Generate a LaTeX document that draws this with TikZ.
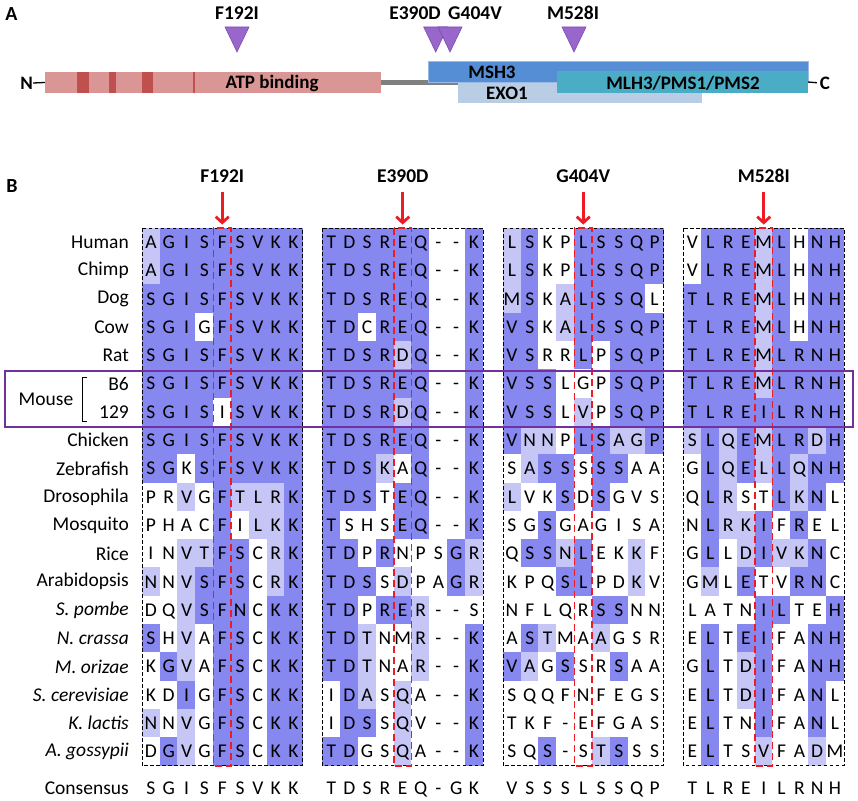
\documentclass[tikz,border=0pt]{standalone}
\usepackage{fontspec}
\setmainfont{Carlito}
\usetikzlibrary{arrows.meta}

\definecolor{shaded}{RGB}{135,135,240}
\definecolor{shadel}{RGB}{198,198,246}
\definecolor{shadew}{RGB}{255,255,255}
\definecolor{arrowred}{RGB}{237,28,36}
\definecolor{mouseline}{RGB}{112,48,160}
\definecolor{atppink}{RGB}{217,150,148}
\definecolor{atpred}{RGB}{192,80,77}
\definecolor{linkgray}{RGB}{128,128,128}
\definecolor{mshblue}{RGB}{85,142,213}
\definecolor{mlhteal}{RGB}{75,172,198}
\definecolor{exoblue}{RGB}{185,205,229}
\definecolor{mutpurple}{RGB}{153,102,204}
\definecolor{mutedge}{RGB}{120,80,170}

% one alignment cell
\def\ALcw{17.83}
\def\ALrh{28.3}
\newcount\ALcol
\def\ALrow#1#2#3#4#5{% block, row name, row position, letters, shades
  \ALcol=0
  \edef\ALblk{#1}\edef\ALr{#2}\edef\ALy{#3}%
  \edef\ALtmp{\noexpand\ALnext#4\noexpand\relax#5\noexpand\relax}\ALtmp}
\def\ALnext#1#2\relax#3#4\relax{%
  \advance\ALcol by 1
  \node[cell,fill=shade#3] (\ALblk-\ALr-\the\ALcol)
    at ([shift={({(\the\ALcol-0.5)*\ALcw},{(\ALy+0.5)*\ALrh})}]\ALblk) {#1};
  \ifx\relax#2\relax\else\ALnext#2\relax#4\relax\fi}

\begin{document}
\begin{tikzpicture}[x=1pt,y=-1pt,
    cell/.style={rectangle,inner sep=0pt,minimum width=18.2pt,minimum height=28.7pt,
                 text height=12.6pt,text depth=0pt,font=\fontsize{19.5}{19.5}\selectfont},
    species/.style={anchor=east,inner sep=0pt,font=\fontsize{19.5}{19.5}\selectfont},
    mutlabel/.style={inner sep=0pt,font=\bfseries\fontsize{19.5}{19.5}\selectfont},
    panel/.style={inner sep=0pt,font=\bfseries\fontsize{20}{20}\selectfont},
    blockframe/.style={draw=black,line width=0.9pt,dash pattern=on 3.5pt off 2.5pt},
    mutcolumn/.style={draw=arrowred,line width=1.6pt,dash pattern=on 7pt off 4pt},
    mutarrow/.style={draw=arrowred,line width=2.8pt,line join=round,
                     -{Straight Barb[length=6pt,width=13pt]}},
    bar/.style={rectangle,inner sep=0pt,minimum height=21pt},
    bartext/.style={inner sep=0pt,font=\bfseries\fontsize{19}{19}\selectfont},
    termdash/.style={draw=black,line width=1.3pt}]
\useasboundingbox (0,0) rectangle (858,800);

% panel A: domain map
\node[panel] (pA) at (11.5,14) {A};
\node[bar,fill=atppink,minimum width=336pt] (atp) at (213,82.5) {};
\foreach \a/\b in {77/89,109/116,142/153,193.3/194.8}
    \fill[atpred] (\a,72) rectangle (\b,93);
\node[bar,fill=exoblue,minimum width=244pt] (exo) at (580,92.5) {};
\draw[linkgray,line width=5pt] (atp.east) -- (exo.west |- atp.east);
\node[bar,fill=exoblue,minimum width=244pt] (exo) at (580,92.5) {};
\node[bar,fill=mshblue,draw=mshblue!60,line width=0.6pt,minimum width=380pt] (msh) at (618,71.5) {};
\node[bar,fill=mlhteal,minimum width=251pt,minimum height=22pt] (mlh) at (682.5,82) {};
\node[bartext] (atptext) at (272,83) {ATP binding};
\node[bartext] (mshtext) at (492,72) {MSH3};
\node[bartext] (exotext) at (507,93) {EXO1};
\node[bartext] (mlhtext) at (683,83) {MLH3/PMS1/PMS2};
\node[bartext] (nterm) at (26.7,83) {N};
\node[bartext] (cterm) at (825,83) {C};
\draw[termdash] (nterm.east) -- (atp.west);
\draw[termdash,shorten >=3pt] (mlh.east) -- (cterm.west);

\foreach \x/\lab/\lx in {237/F192I/237,435.7/E390D/415,450/G404V/475,574/M528I/573}{
    \node[mutlabel] (t\lab) at (\lx,13) {\lab};
    \filldraw[fill=mutpurple,draw=mutedge,line width=0.6pt] (\x-12,27) -- (\x+12,27) -- (\x,52) -- cycle;
}

% panel B: alignment
\node[panel] (pB) at (12,186) {B};
\coordinate (b1) at (142,228);
\coordinate (b2) at (322.5,228);
\coordinate (b3) at (503,228);
\coordinate (b4) at (683.5,228);

\foreach \s/\h [count=\r from 0] in {
    AGISFSVKK/ldddddddd,
    AGISFSVKK/ldddddddd,
    SGISFSVKK/ddddddddd,
    SGIGFSVKK/dddwddddd,
    SGISFSVKK/ddddddddd,
    SGISFSVKK/ddddddddd,
    SGISISVKK/ddddwdddd,
    SGISFSVKK/ddddddddd,
    SGKSFSVKK/ddwdddddd,
    PRVGFTLRK/wwlwdllld,
    PHACFILKK/wwwwdwlld,
    INVTFSCRK/wwllddwld,
    NNVSFSCRK/lwldddwld,
    DQVSFNCKK/wwldddwdd,
    SHVAFSCKK/dwlwddwdd,
    KGVAFSCKK/wdlwddwdd,
    KDIGFSCKK/wwdwddwdd,
    NNVGFSCKK/lwlwddwdd,
    DGVGFSCKK/wdlwddwdd}
    {\ALrow{b1}{\r}{\r}{\s}{\h}}

\foreach \s/\h [count=\r from 0] in {
    TDSREQ--K/ddddddwwd,
    TDSREQ--K/ddddddwwd,
    TDSREQ--K/ddddddwwd,
    TDCREQ--K/ddwdddwwd,
    TDSRDQ--K/ddddldwwd,
    TDSREQ--K/ddddddwwd,
    TDSRDQ--K/ddddldwwd,
    TDSREQ--K/ddddddwwd,
    TDSKAQ--K/dddlwdwwd,
    TDSTEQ--K/dddwddwwd,
    TSHSEQ--K/dwwwddwwd,
    TDPRNPSGR/ddwdwwwdl,
    TDSSDPAGR/dddwlwwdl,
    TDPRER--S/ddwddlwww,
    TDTNMR--K/ddlwwlwwd,
    TDTNAR--K/ddlwwlwwd,
    IDASQA--K/wdlwlwwwd,
    IDSSQV--K/wddwlwwwd,
    TDGSQA--K/ddwwlwwwd}
    {\ALrow{b2}{\r}{\r}{\s}{\h}}

\foreach \s/\h [count=\r from 0] in {
    LSKPLSSQP/ldwwddddd,
    LSKPLSSQP/ldwwddddd,
    MSKALSSQL/ldwlddddw,
    VSKALSSQP/ddwlddddd,
    VSRRLPSQP/ddwwdwddd,
    VSSLGPSQP/dddwwwddd,
    VSSLVPSQP/dddwlwddd,
    VNNPLSAGP/dllwddlld,
    SASSSSSAA/wlddwddww,
    LVKSDSGVS/lwwdwdwww,
    SGSGAGISA/wwdwwwwww,
    QSSNLEKKF/wddldwwlw,
    KPQSLPDKV/wwwddwwlw,
    NFLQRSSNN/wwwwwddww,
    ASTMAAGSR/wdlwwlwww,
    VAGSSRSAA/dlwdwwdww,
    SQQFNFEGS/wwwwwwwww,
    TKF-EFGAS/wwwwwwwww,
    SQS-STSSS/wwdwwldww}
    {\ALrow{b3}{\r}{\r}{\s}{\h}}

\foreach \s/\h [count=\r from 0] in {
    VLREMLHNH/wdddldwdd,
    VLREMLHNH/wdddldwdd,
    TLREMLHNH/ddddldwdd,
    TLREMLHNH/ddddldwdd,
    TLREMLRNH/ddddldddd,
    TLREMLRNH/ddddldddd,
    TLREILRNH/ddddddddd,
    SLQEMLRDH/ldldlddld,
    GLQELLQNH/wdldldldd,
    QLRSTLKNL/wdlwwdldw,
    NLRKIFREL/wdlldwdww,
    GLLDIVKNC/wdwldlldw,
    GMLETVRNC/wlwdwwddw,
    LATNILTEH/wwwwddwwd,
    ELTEIFANH/wdwddwwdd,
    GLTDIFANH/wdwldwwdd,
    ELTDIFANL/wdwldwwdw,
    ELTNIFANL/wdwwdwwdw,
    ELTSVFADM/wdwwlwwlw}
    {\ALrow{b4}{\r}{\r}{\s}{\h}}

% consensus
\ALrow{b1}{cons}{19.29}{SGISFSVKK}{wwwwwwwww}
\ALrow{b2}{cons}{19.29}{TDSREQ-GK}{wwwwwwwww}
\ALrow{b3}{cons}{19.29}{VSSSLSSQP}{wwwwwwwww}
\ALrow{b4}{cons}{19.29}{TLREILRNH}{wwwwwwwww}

% frames, mutated column and arrows
\foreach \b/\lab in {b1/F192I,b2/E390D,b3/G404V,b4/M528I}{
    \draw[blockframe] (\b) rectangle ([shift={({9*\ALcw},{19*\ALrh})}]\b);
    \draw[mutcolumn] ([shift={({4*\ALcw},0)}]\b) rectangle ([shift={({5*\ALcw},{19*\ALrh})}]\b);
    \node[mutlabel] (\b-lab) at ([shift={({4.5*\ALcw},-52)}]\b) {\lab};
    \coordinate (\b-tail) at ([shift={({4.5*\ALcw},-36)}]\b);
    \draw[mutarrow] (\b-tail) -- ([yshift=3pt]\b-0-5.north);
}

% species names
\foreach \sp [count=\i from 0] in {Human,Chimp,Dog,Cow,Rat,B6,129,Chicken,Zebrafish,
    Drosophila,Mosquito,Rice,Arabidopsis,\textit{S. pombe},\textit{N. crassa},
    \textit{M. orizae},\textit{S. cerevisiae},\textit{K. lactis},\textit{A. gossypii}}
    \node[species] (sp\i) at (129,{228+(\i+0.5)*\ALrh}) {\sp};
\node[species] (spcons) at (129,{228+19.79*\ALrh}) {Consensus};

% mouse strains
\draw[draw=mouseline,line width=1.2pt] (5,371) rectangle (853,427);
\node[inner sep=0pt,font=\fontsize{19.5}{19.5}\selectfont] (mouse) at (46,399) {Mouse};
\draw[line width=0.9pt] (87,377) -- (82,377) -- (82,421) -- (87,421);
\end{tikzpicture}
\end{document}
